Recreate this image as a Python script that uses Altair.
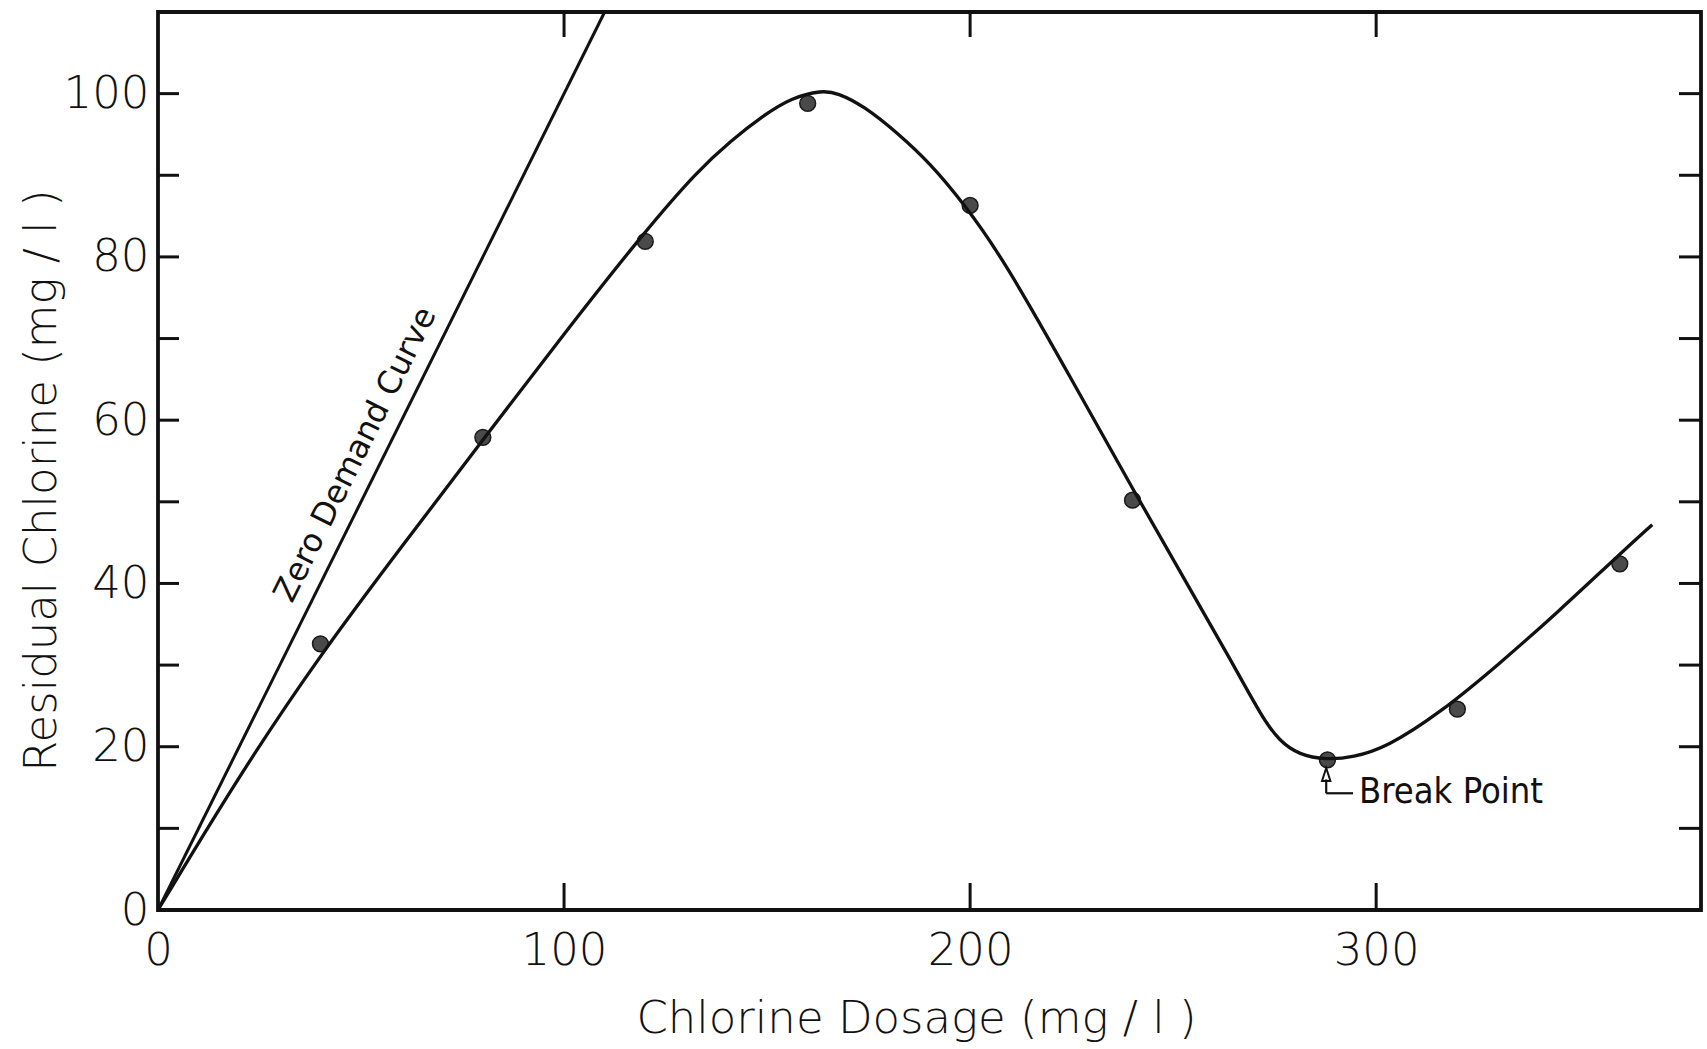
import altair as alt
import pandas as pd

# Measured residual chlorine (mg/l) at each applied dosage (mg/l)
dosage = [40, 80, 120, 160, 200, 240, 288, 320, 360]
residual = [32.6, 57.9, 81.9, 98.8, 86.3, 50.2, 18.4, 24.6, 42.4]

# Smooth curve drawn through the measurements
curve_dosage = [0, 20, 40, 60, 80, 100, 120, 133, 141, 149, 156, 163.5, 167.3, 173.8,
                182.1, 190.3, 198.5, 208.4, 225, 240, 255, 264, 272, 276.2, 281, 287.7,
                294.3, 302.5, 315.6, 330, 345, 360, 368]
curve_residual = [0, 16.5, 31.3, 44.5, 57.6, 70.6, 83.2, 90.6, 94.2, 97.3, 99.5, 100.4,
                  100.1, 98.5, 95.2, 91.4, 86.5, 79.6, 65.0, 51.6, 38.6, 30.8, 23.5, 20.7,
                  19.0, 18.4, 18.7, 19.9, 24.1, 30.0, 36.6, 43.6, 47.2]

# Zero demand line (residual equals dosage)
zero_demand_dosage = [0, 110]
zero_demand_residual = [0, 110]

# Axis ticks and labels
x_tick_values = [100, 200, 300]
y_tick_values = [10, 20, 30, 40, 50, 60, 70, 80, 90, 100]
x_label_values = [0, 100, 200, 300]
y_label_values = [0, 20, 40, 60, 80, 100]

# Break point annotation (arrow, leader and label)
break_dosage = 287.7
arrow_head_residual = 16.6
arrow_stem_residual = [14.3, 16.0]
leader_dosage = [287.7, 294.3]
leader_residual = 14.3
break_label_dosage = 295.8
break_label_residual = 14.5
break_label = "Break Point"

# Zero demand label placement
zero_label_dosage = 48.6
zero_label_residual = 55.8
zero_label = "Zero Demand Curve"

W, H = 1543, 898
FONT = "DejaVu Sans"
INK = "#111111"

x_scale = alt.Scale(domain=[0, 380], nice=False, zero=False)
y_scale = alt.Scale(domain=[0, 110], nice=False, zero=False)

x_axis = alt.Axis(
    values=x_label_values, ticks=False, tickSize=0, domain=False, grid=False,
    labelFont=FONT, labelFontSize=45, labelFontWeight=300, labelColor=INK,
    labelPadding=18, labelFlush=False,
    title="Chlorine Dosage (mg / l )", titleFont=FONT, titleFontSize=45,
    titleFontWeight=300, titleColor=INK, titleX=758, titleY=122,
    titleAlign="center", titleBaseline="alphabetic", titleAnchor="middle",
)
y_axis = alt.Axis(
    values=y_label_values, ticks=False, tickSize=0, domain=False, grid=False,
    labelFont=FONT, labelFontSize=45, labelFontWeight=300, labelColor=INK,
    labelPadding=9, labelFlush=False,
    title="Residual Chlorine (mg / l )", titleFont=FONT, titleFontSize=45,
    titleFontWeight=300, titleColor=INK, titleX=-103, titleY=468, titleAngle=270,
    titleAlign="center", titleBaseline="alphabetic", titleAnchor="middle",
)


def X(field="dosage"):
    return alt.X(f"{field}:Q", scale=x_scale, axis=x_axis)


def Y(field="residual"):
    return alt.Y(f"{field}:Q", scale=y_scale, axis=y_axis)


points_df = pd.DataFrame({"dosage": dosage, "residual": residual})
curve_df = pd.DataFrame({"dosage": curve_dosage, "residual": curve_residual})
zero_df = pd.DataFrame({"dosage": zero_demand_dosage, "residual": zero_demand_residual})
xt_df = pd.DataFrame({"dosage": x_tick_values})
yt_df = pd.DataFrame({"residual": y_tick_values})

# Measured points
points = alt.Chart(points_df).mark_point(
    shape="circle", filled=True, size=250, fill="#4a4a4a",
    stroke="#1a1a1a", strokeWidth=1.5, opacity=1,
).encode(x=X(), y=Y())

# Smoothed curve through the traced positions
curve = alt.Chart(curve_df).mark_line(
    interpolate="basis", color=INK, strokeWidth=3.3
).encode(x=X(), y=Y())

zero_line = alt.Chart(zero_df).mark_line(color=INK, strokeWidth=3).encode(x=X(), y=Y())

# Inward ticks on all four sides of the frame
tick_style = dict(color=INK, strokeWidth=3)
bottom_ticks = alt.Chart(xt_df).mark_rule(**tick_style).encode(
    x=X(), y=alt.value(H), y2=alt.value(H - 27)
)
top_ticks = alt.Chart(xt_df).mark_rule(**tick_style).encode(
    x=X(), y=alt.value(0), y2=alt.value(25)
)
left_ticks = alt.Chart(yt_df).mark_rule(**tick_style).encode(
    y=Y(), x=alt.value(0), x2=alt.value(21)
)
right_ticks = alt.Chart(yt_df).mark_rule(**tick_style).encode(
    y=Y(), x=alt.value(W), x2=alt.value(W - 22)
)

# Break point arrow, leader and label
head_df = pd.DataFrame({"dosage": [break_dosage], "residual": [arrow_head_residual]})
stem_df = pd.DataFrame({"dosage": [break_dosage], "residual": [arrow_stem_residual[0]],
                        "residual_end": [arrow_stem_residual[1]]})
leader_df = pd.DataFrame({"dosage": [leader_dosage[0]], "dosage_end": [leader_dosage[1]],
                          "residual": [leader_residual]})
break_text_df = pd.DataFrame({"dosage": [break_label_dosage], "residual": [break_label_residual],
                              "label": [break_label]})

arrow_head = alt.Chart(head_df).mark_point(
    shape="M0,-1L0.65,1L-0.65,1Z", size=165, filled=False, color=INK,
    strokeWidth=2, opacity=1,
).encode(x=X(), y=Y())
arrow_stem = alt.Chart(stem_df).mark_rule(color=INK, strokeWidth=2.2).encode(
    x=X(), y=Y(), y2="residual_end:Q"
)
leader = alt.Chart(leader_df).mark_rule(color=INK, strokeWidth=2.2).encode(
    x=X(), x2="dosage_end:Q", y=Y()
)
break_text = alt.Chart(break_text_df).mark_text(
    font="DejaVu Sans Condensed, DejaVu Sans", fontSize=36, fontWeight=500,
    align="left", baseline="middle", color=INK,
).encode(x=X(), y=Y(), text="label:N")

zero_text_df = pd.DataFrame({"dosage": [zero_label_dosage], "residual": [zero_label_residual],
                             "label": [zero_label]})
zero_text = alt.Chart(zero_text_df).mark_text(
    font=FONT, fontSize=32, fontWeight=400, angle=296.45,
    align="center", baseline="middle", color=INK,
).encode(x=X(), y=Y(), text="label:N")

chart = alt.layer(
    points, bottom_ticks, top_ticks, left_ticks, right_ticks,
    zero_line, curve, arrow_stem, leader, arrow_head, break_text, zero_text,
).properties(
    width=W, height=H,
    autosize=alt.AutoSizeParams(type="none"),
    padding={"left": 158, "top": 12, "right": 6, "bottom": 139},
    background="white",
).configure_view(
    stroke=INK, strokeWidth=3.8,
)

chart.save("out.html", embed_options={"renderer": "svg", "actions": False})
